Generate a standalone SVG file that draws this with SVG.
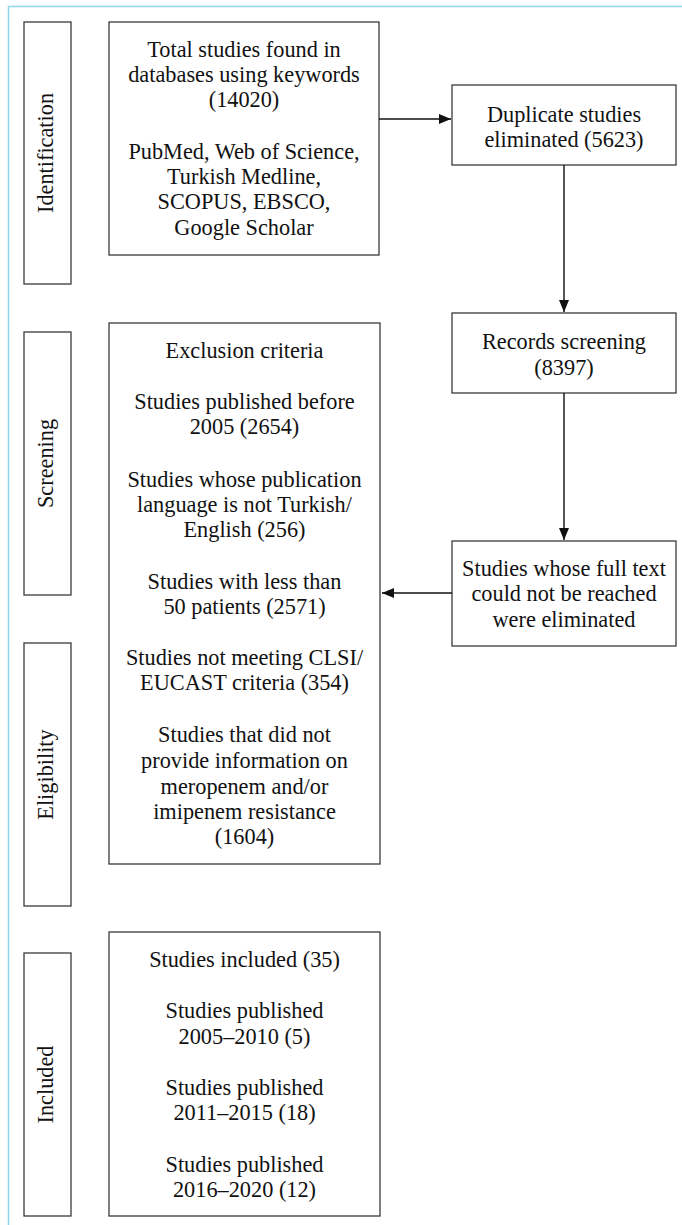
<svg xmlns="http://www.w3.org/2000/svg" width="682" height="1225" viewBox="0 0 682 1225">
<style>
.box{fill:#fff;stroke:#3a3a3a;stroke-width:1.3}
.t{font-family:"Liberation Serif","Times New Roman",serif;font-size:22.3px;fill:#111;text-anchor:middle}
.c{stroke:#111;stroke-width:1.4;fill:none}
</style>
<defs>
<marker id="ah" viewBox="0 0 12 10" refX="12" refY="5" markerWidth="12" markerHeight="10" markerUnits="userSpaceOnUse" orient="auto">
<path d="M0,0 L12,5 L0,10 Z" fill="#111"/>
</marker>
</defs>
<rect x="0" y="0" width="682" height="1225" fill="#fff"/>
<rect x="8.5" y="6.5" width="690" height="1240" fill="none" stroke="#8fd6e9" stroke-width="1.5"/>

<g id="lbl-identification">
<rect class="box" x="24" y="22" width="47" height="262"/>
<text class="t" transform="translate(53,153) rotate(-90)">Identification</text>
</g>
<g id="lbl-screening">
<rect class="box" x="24" y="332" width="47" height="263"/>
<text class="t" transform="translate(53,463.5) rotate(-90)">Screening</text>
</g>
<g id="lbl-eligibility">
<rect class="box" x="24" y="643" width="47" height="263"/>
<text class="t" transform="translate(53,774.5) rotate(-90)">Eligibility</text>
</g>
<g id="lbl-included">
<rect class="box" x="24" y="953" width="47" height="263"/>
<text class="t" transform="translate(53,1084.5) rotate(-90)">Included</text>
</g>

<g id="total">
<rect class="box" x="109" y="22" width="270" height="233"/>
<text class="t" x="244" y="57">Total studies found in</text>
<text class="t" x="244" y="82">databases using keywords</text>
<text class="t" x="244" y="107">(14020)</text>
<text class="t" x="244" y="159">PubMed, Web of Science,</text>
<text class="t" x="244" y="184">Turkish Medline,</text>
<text class="t" x="244" y="209">SCOPUS, EBSCO,</text>
<text class="t" x="244" y="235">Google Scholar</text>
</g>

<g id="duplicate">
<rect class="box" x="452" y="85" width="224" height="80"/>
<text class="t" x="564" y="122">Duplicate studies</text>
<text class="t" x="564" y="147">eliminated (5623)</text>
</g>

<g id="records">
<rect class="box" x="452" y="313" width="224" height="80"/>
<text class="t" x="564" y="349">Records screening</text>
<text class="t" x="564" y="375">(8397)</text>
</g>

<g id="fulltext">
<rect class="box" x="452" y="541" width="224" height="105"/>
<text class="t" x="564" y="576">Studies whose full text</text>
<text class="t" x="564" y="601">could not be reached</text>
<text class="t" x="564" y="627">were eliminated</text>
</g>

<g id="exclusion">
<rect class="box" x="109" y="323" width="271" height="541"/>
<text class="t" x="244.5" y="358">Exclusion criteria</text>
<text class="t" x="244.5" y="409">Studies published before</text>
<text class="t" x="244.5" y="434">2005 (2654)</text>
<text class="t" x="244.5" y="487">Studies whose publication</text>
<text class="t" x="244.5" y="512">language is not Turkish/</text>
<text class="t" x="244.5" y="537">English (256)</text>
<text class="t" x="244.5" y="589">Studies with less than</text>
<text class="t" x="244.5" y="614">50 patients (2571)</text>
<text class="t" x="244.5" y="665">Studies not meeting CLSI/</text>
<text class="t" x="244.5" y="690">EUCAST criteria (354)</text>
<text class="t" x="244.5" y="742">Studies that did not</text>
<text class="t" x="244.5" y="768">provide information on</text>
<text class="t" x="244.5" y="794">meropenem and/or</text>
<text class="t" x="244.5" y="819">imipenem resistance</text>
<text class="t" x="244.5" y="844">(1604)</text>
</g>

<g id="included">
<rect class="box" x="109" y="932" width="271" height="284"/>
<text class="t" x="244.5" y="967">Studies included (35)</text>
<text class="t" x="244.5" y="1018">Studies published</text>
<text class="t" x="244.5" y="1044">2005–2010 (5)</text>
<text class="t" x="244.5" y="1095">Studies published</text>
<text class="t" x="244.5" y="1120">2011–2015 (18)</text>
<text class="t" x="244.5" y="1172">Studies published</text>
<text class="t" x="244.5" y="1197">2016–2020 (12)</text>
</g>

<g id="connectors">
<line class="c" x1="379" y1="119" x2="451" y2="119" marker-end="url(#ah)"/>
<line class="c" x1="564" y1="165" x2="564" y2="312" marker-end="url(#ah)"/>
<line class="c" x1="564" y1="393" x2="564" y2="540" marker-end="url(#ah)"/>
<line class="c" x1="452" y1="593" x2="382" y2="593" marker-end="url(#ah)"/>
</g>
</svg>
